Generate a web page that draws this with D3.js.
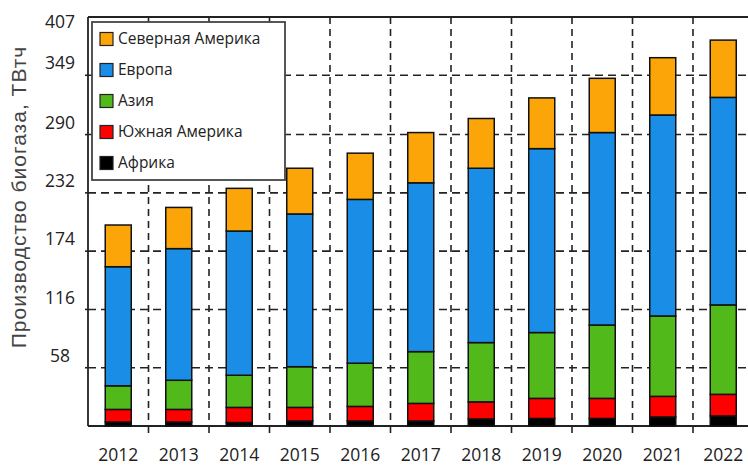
<!DOCTYPE html>
<html>
<head>
<meta charset="utf-8">
<script src="https://cdn.jsdelivr.net/npm/d3@7"></script>
<style>
  html, body { margin: 0; padding: 0; background: #fff; }
  svg { display: block; }
</style>
</head>
<body>
<svg id="chart" width="748" height="466"></svg>
<script>
const years = ["2012","2013","2014","2015","2016","2017","2018","2019","2020","2021","2022"];
const africa       = [4, 4, 3.5, 5, 5, 5, 7, 7.5, 7.5, 9, 10];
const southAmerica = [12.5, 12.5, 15, 13.5, 14.5, 17.5, 17, 20, 20, 20.5, 21.5];
const asia         = [23.5, 29, 32, 40.5, 43, 51.5, 59, 65.5, 73, 80, 89];
const europe       = [118.5, 131, 143.5, 152, 163, 168, 173.5, 183, 191.5, 200, 206.5];
const northAmerica = [41.5, 41, 42.5, 45.5, 46, 50, 49.5, 50.5, 54, 57, 57];
const yTicks = [58, 116, 174, 232, 290, 349, 407];
const seriesNames = ["Африка", "Южная Америка", "Азия", "Европа", "Северная Америка"];
const seriesColors = ["#000000", "#ff0000", "#52b91a", "#1a8de6", "#fba508"];

(function () {
const rows = years.map((yr, i) => ({
  year: yr,
  "Африка": africa[i],
  "Южная Америка": southAmerica[i],
  "Азия": asia[i],
  "Европа": europe[i],
  "Северная Америка": northAmerica[i]
}));

const svg = d3.select("#chart");
const mLeft = 88, mTop = 17, mBottom = 426, mRight = 748;
const x = d3.scaleBand().domain(years).range([mLeft, mLeft + 60.5 * years.length]);
const y = d3.scaleLinear().domain([0, 407]).range([mBottom, mTop]);
const color = d3.scaleOrdinal().domain(seriesNames).range(seriesColors);

const stack = d3.stack().keys(seriesNames)(rows);

// horizontal dashed gridlines
svg.append("g").selectAll("line").data(yTicks.filter(v => v < 407)).join("line")
  .attr("x1", mLeft).attr("x2", mRight)
  .attr("y1", d => y(d)).attr("y2", d => y(d))
  .attr("stroke", "#222").attr("stroke-width", 1.6)
  .attr("stroke-dasharray", "8,5");

// vertical dashed gridlines at band boundaries
const boundaries = years.slice(1).map(yr => x(yr));
svg.append("g").selectAll("line").data(boundaries).join("line")
  .attr("x1", d => d).attr("x2", d => d)
  .attr("y1", mTop).attr("y2", mBottom)
  .attr("stroke", "#222").attr("stroke-width", 1.6)
  .attr("stroke-dasharray", "7,5");

// bottom tick marks
svg.append("g").selectAll("line").data(boundaries).join("line")
  .attr("x1", d => d).attr("x2", d => d)
  .attr("y1", mBottom).attr("y2", mBottom + 7)
  .attr("stroke", "#222").attr("stroke-width", 1.6);

// left tick marks
svg.append("g").selectAll("line").data(yTicks.filter(v => v < 407)).join("line")
  .attr("x1", mLeft - 3).attr("x2", mLeft)
  .attr("y1", d => y(d)).attr("y2", d => y(d))
  .attr("stroke", "#222").attr("stroke-width", 1.6);

// frame: left, bottom, top
svg.append("line").attr("x1", mLeft).attr("x2", mLeft).attr("y1", mTop).attr("y2", mBottom)
  .attr("stroke", "#222").attr("stroke-width", 1.8);
svg.append("line").attr("x1", mLeft).attr("x2", mRight).attr("y1", mBottom).attr("y2", mBottom)
  .attr("stroke", "#222").attr("stroke-width", 1.8);
svg.append("line").attr("x1", mLeft).attr("x2", mRight).attr("y1", mTop).attr("y2", mTop)
  .attr("stroke", "#222").attr("stroke-width", 1.8);

// bars
const barW = x.bandwidth() * 0.43;
svg.append("g").selectAll("g").data(stack).join("g")
  .attr("fill", d => color(d.key))
  .selectAll("rect").data(d => d).join("rect")
  .attr("x", d => x(d.data.year) + (x.bandwidth() - barW) / 2)
  .attr("width", barW)
  .attr("y", d => y(d[1]))
  .attr("height", d => y(d[0]) - y(d[1]))
  .attr("stroke", "#111").attr("stroke-width", 1.5);

// y tick labels
svg.append("g").selectAll("text").data(yTicks).join("text")
  .attr("x", 60).attr("y", d => Math.max(y(d) - 12, 22))
  .attr("dy", "0.35em")
  .attr("text-anchor", "middle")
  .attr("font-family", "Open Sans, sans-serif")
  .attr("font-size", 17.5)
  .attr("fill", "#222")
  .text(d => d);

// x labels
svg.append("g").selectAll("text").data(years).join("text")
  .attr("x", d => x(d) + x.bandwidth() / 2)
  .attr("y", 460.5)
  .attr("text-anchor", "middle")
  .attr("font-family", "Open Sans, sans-serif")
  .attr("font-size", 17.5)
  .attr("fill", "#222")
  .text(d => d);

// y title
svg.append("text")
  .attr("transform", "translate(26,197) rotate(-90)")
  .attr("text-anchor", "middle")
  .attr("font-family", "Liberation Sans, Arial, sans-serif")
  .attr("font-size", 21)
  .attr("letter-spacing", 1)
  .attr("fill", "#444")
  .text("Производство биогаза, ТВтч");

// legend
const lg = svg.append("g");
lg.append("rect").attr("x", 92).attr("y", 22).attr("width", 193).attr("height", 158)
  .attr("fill", "#fff").attr("stroke", "#444").attr("stroke-width", 1.8);
const legendOrder = seriesNames.slice().reverse();
const item = lg.selectAll("g").data(legendOrder).join("g")
  .attr("transform", (d, i) => `translate(100,${39 + i * 31})`);
item.append("rect").attr("x", 0).attr("y", -6.5).attr("width", 13).attr("height", 13)
  .attr("fill", d => color(d)).attr("stroke", "#222").attr("stroke-width", 1.2);
item.append("text").attr("x", 18).attr("y", 0).attr("dy", "0.35em")
  .attr("font-family", "Open Sans, sans-serif")
  .attr("font-size", 15.5)
  .attr("fill", "#222")
  .text(d => d);
})();
</script>
</body>
</html>
